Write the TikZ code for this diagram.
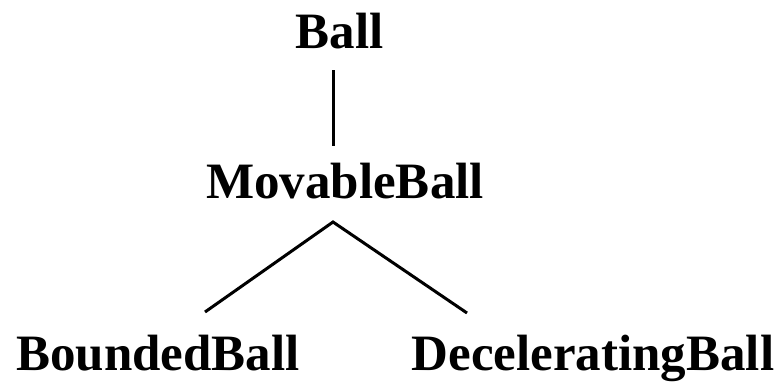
\documentclass[tikz,border=0pt]{standalone}
\usepackage{fontspec}
\setmainfont{Liberation Serif}
\begin{document}
\begin{tikzpicture}[x=1pt,y=-1pt,
  lbl/.style={anchor=base,inner sep=0pt,font=\fontsize{51}{60}\selectfont\bfseries},
  edge/.style={line width=3pt,line cap=butt}]
\useasboundingbox (0,0) rectangle (784,383);
\node[lbl] (ball) at (339.5,48) {Ball};
\node[lbl] (movable) at (345,198) {MovableBall};
\node[lbl] (bounded) at (158,370) {BoundedBall};
\node[lbl] (decel) at (593,370) {DeceleratingBall};
\coordinate (v1) at (333,70);
\coordinate (v2) at (333,146);
\coordinate (apex) at (333,222);
\coordinate (lend) at (205,312);
\coordinate (rend) at (467,313);
\draw[edge] (v1) -- (v2);
\draw[edge] (lend) -- (apex) -- (rend);
\end{tikzpicture}
\end{document}
